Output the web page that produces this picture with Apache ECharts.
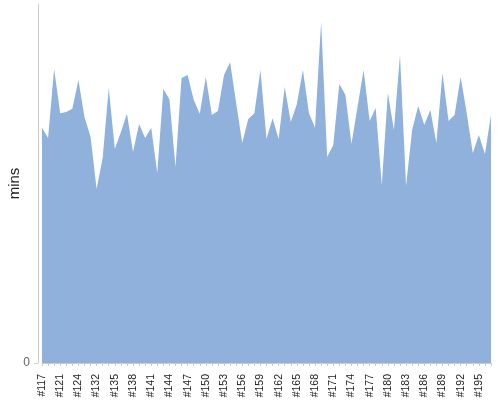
<!DOCTYPE html>
<html>
<head>
<meta charset="utf-8">
<script src="https://cdn.jsdelivr.net/npm/echarts@6/dist/echarts.min.js"></script>
<style>
    html, body {margin: 0; padding: 0; background: #fff;}
    #chart {width: 500px; height: 400px;}
</style>
</head>
<body>
<div id="chart"></div>
<script>
// 类目 (build ids)
var categories = [
    '#117', '#118', '#120', '#121', '#122', '#123', '#124', '#126', '#129',
    '#132', '#133', '#134', '#135', '#136', '#137', '#138', '#139', '#140',
    '#141', '#142', '#143', '#144', '#145', '#146', '#147', '#148', '#149',
    '#150', '#151', '#152', '#153', '#154', '#155', '#156', '#157', '#158',
    '#159', '#160', '#161', '#162', '#163', '#164', '#165', '#166', '#167',
    '#168', '#169', '#170', '#171', '#172', '#173', '#174', '#175', '#176',
    '#177', '#178', '#179', '#180', '#181', '#182', '#183', '#184', '#185',
    '#186', '#187', '#188', '#189', '#190', '#191', '#192', '#193', '#194',
    '#195', '#196', '#197'
];
// 每个构建耗时 (mins)
var mins = [
    65.5, 62.7, 81.9, 69.6, 69.9, 70.8, 78.8, 68.5, 63.0,
    48.5, 57.1, 76.6, 59.6, 64.3, 69.4, 58.8, 66.6, 62.7,
    65.5, 52.9, 76.3, 73.5, 54.6, 79.4, 80.2, 73.3, 69.4,
    79.7, 69.1, 70.2, 80.2, 83.8, 72.4, 61.3, 68.0, 69.6,
    81.6, 62.4, 68.2, 62.4, 76.9, 67.1, 72.1, 81.6, 69.6,
    65.5, 95.0, 57.4, 60.7, 77.7, 74.7, 61.0, 71.3, 81.6,
    67.4, 71.0, 49.6, 75.2, 64.9, 85.8, 49.3, 64.9, 71.6,
    66.3, 70.5, 61.3, 80.8, 67.4, 69.1, 79.7, 69.6, 58.5,
    63.5, 58.2, 69.1
];
var yMax = 100;

var chart = echarts.init(document.getElementById('chart'));
var option = {
    animation: false,
    grid: {left: 42, right: 9, top: 4, bottom: 37, containLabel: false, outerBoundsMode: 'none'},
    textStyle: {fontFamily: 'Liberation Sans, Arial, sans-serif'},
    xAxis: {
        type: 'category',
        data: categories,
        boundaryGap: false,
        offset: 5,
        axisLine: {show: true, lineStyle: {color: '#ccc'}},
        axisTick: {show: true, interval: 0, length: 3, lineStyle: {color: '#ccc'}},
        axisLabel: {interval: 2, rotate: 90, margin: 6, fontSize: 10.5, color: '#222'}
    },
    yAxis: {
        type: 'value',
        min: 0,
        max: yMax,
        interval: yMax,
        offset: 4,
        name: 'mins',
        nameLocation: 'middle',
        nameGap: 16,
        nameMoveOverlap: false,
        nameTextStyle: {fontSize: 15, color: '#222'},
        axisLine: {show: true, lineStyle: {color: '#ccc'}},
        axisTick: {show: true, length: 4, lineStyle: {color: '#ccc'}},
        axisLabel: {showMaxLabel: false, margin: 8, fontSize: 12, color: '#666'},
        splitLine: {show: false}
    },
    series: [{
        name: 'mins',
        type: 'line',
        data: mins,
        symbol: 'none',
        lineStyle: {width: 0},
        areaStyle: {color: '#8fb1db', opacity: 1}
    }]
};
chart.setOption(option);
</script>
</body>
</html>
